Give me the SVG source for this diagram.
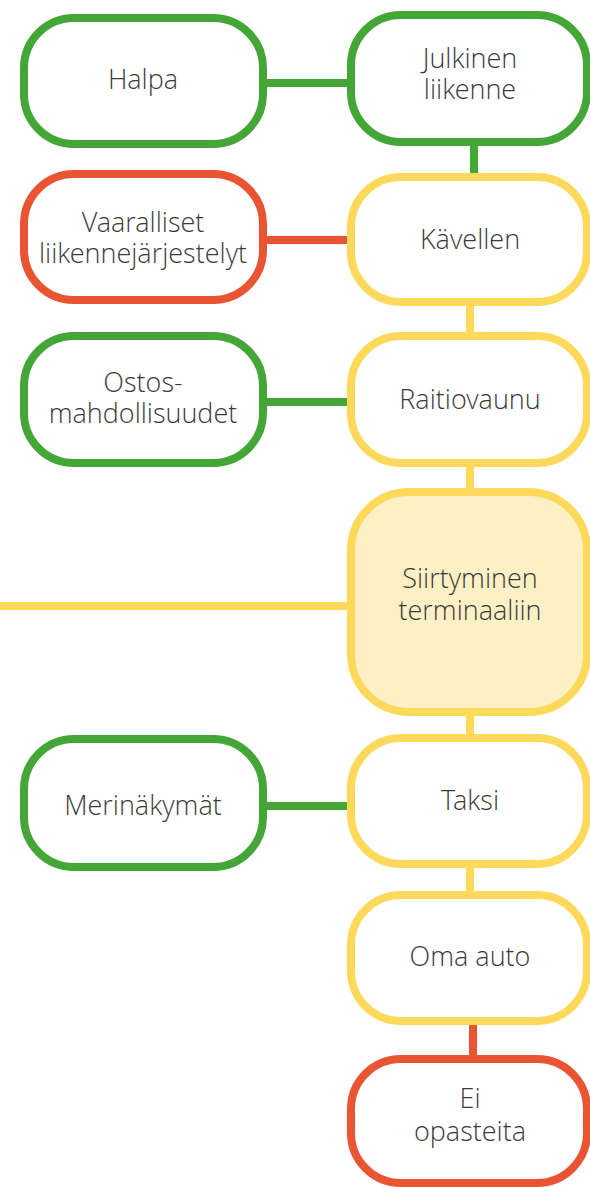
<svg xmlns="http://www.w3.org/2000/svg" width="590" height="1187" viewBox="0 0 590 1187">
  <style>
    .box { fill: #ffffff; stroke-width: 8; }
    .green { stroke: #43a637; }
    .red { stroke: #e95432; }
    .yellow { stroke: #fcd95b; }
    .hub { fill: #fdf0c4; }
    .link { fill: none; stroke-width: 8; }
    text { font-family: "Open Sans Light", "Open Sans", "Noto Sans", "Liberation Sans", sans-serif; font-weight: 300; font-size: 27px; fill: #3a3a3a; text-anchor: middle; }
  </style>
  <rect width="590" height="1187" fill="#ffffff"/>

  <!-- connectors -->
  <g id="connectors">
    <line class="link green" x1="263" y1="83" x2="351" y2="83"/>
    <line class="link green" x1="474" y1="142" x2="474" y2="177"/>
    <line class="link red" x1="263" y1="240" x2="351" y2="240"/>
    <line class="link yellow" x1="470" y1="302" x2="470" y2="336"/>
    <line class="link green" x1="263" y1="402" x2="351" y2="402"/>
    <line class="link yellow" x1="470" y1="463" x2="470" y2="492"/>
    <line class="link yellow" x1="0" y1="606" x2="351" y2="606"/>
    <line class="link yellow" x1="470" y1="712" x2="470" y2="738"/>
    <line class="link green" x1="263" y1="806" x2="351" y2="806"/>
    <line class="link yellow" x1="470" y1="864" x2="470" y2="895"/>
    <line class="link red" x1="473" y1="1021" x2="473" y2="1059"/>
  </g>

  <g id="halpa">
    <rect class="box green" x="24" y="18" width="239" height="126" rx="50"/>
    <text x="143" y="89">Halpa</text>
  </g>

  <g id="julkinen-liikenne">
    <rect class="box green" x="351" y="15" width="236" height="127" rx="50"/>
    <text x="470" y="68">Julkinen</text>
    <text x="470" y="99">liikenne</text>
  </g>

  <g id="vaaralliset">
    <rect class="box red" x="24" y="174" width="239" height="126" rx="50"/>
    <text x="143" y="232">Vaaralliset</text>
    <text x="143" y="263">liikennejärjestelyt</text>
  </g>

  <g id="kavellen">
    <rect class="box yellow" x="351" y="177" width="236" height="125" rx="50"/>
    <text x="470" y="249">Kävellen</text>
  </g>

  <g id="ostos">
    <rect class="box green" x="24" y="336" width="239" height="127" rx="50"/>
    <text x="143" y="392">Ostos-</text>
    <text x="143" y="423">mahdollisuudet</text>
  </g>

  <g id="raitiovaunu">
    <rect class="box yellow" x="351" y="336" width="236" height="127" rx="50"/>
    <text x="470" y="409">Raitiovaunu</text>
  </g>

  <g id="siirtyminen">
    <rect class="box yellow hub" x="351" y="492" width="236" height="220" rx="58"/>
    <text x="470" y="588">Siirtyminen</text>
    <text x="470" y="620">terminaaliin</text>
  </g>

  <g id="merinakymat">
    <rect class="box green" x="24" y="739" width="239" height="128" rx="50"/>
    <text x="143" y="815">Merinäkymät</text>
  </g>

  <g id="taksi">
    <rect class="box yellow" x="351" y="738" width="236" height="126" rx="50"/>
    <text x="470" y="810">Taksi</text>
  </g>

  <g id="oma-auto">
    <rect class="box yellow" x="351" y="895" width="236" height="126" rx="50"/>
    <text x="470" y="966">Oma auto</text>
  </g>

  <g id="ei-opasteita">
    <rect class="box red" x="351" y="1059" width="236" height="124" rx="50"/>
    <text x="470" y="1108">Ei</text>
    <text x="470" y="1141">opasteita</text>
  </g>
</svg>
